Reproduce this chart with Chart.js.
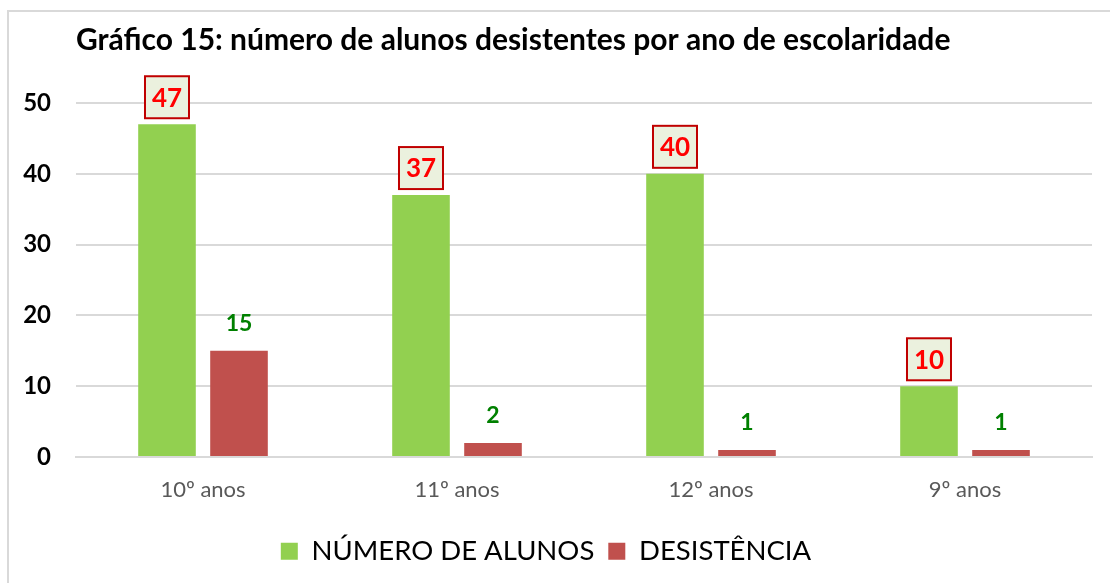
<!DOCTYPE html>
<html>
<head>
<meta charset="utf-8">
<script src="https://cdn.jsdelivr.net/npm/chart.js@4.4.1/dist/chart.umd.min.js"></script>
<style>
    html, body { margin: 0; padding: 0; background: #ffffff; overflow: hidden; }
    #frame {
        position: absolute; left: 7px; top: 10px; width: 1200px; height: 700px;
        border-left: 2px solid #d9d9d9; border-top: 2px solid #d9d9d9;
    }
    #wrap { position: absolute; left: 0; top: 0; width: 1110px; height: 583px; }
</style>
</head>
<body>
<div id="frame"></div>
<div id="wrap"><canvas id="chart"></canvas></div>
<script>
    var titleText = 'Gráfico 15: número de alunos desistentes por ano de escolaridade';
    var categories = ['10º anos', '11º anos', '12º anos', '9º anos'];
    var numeroAlunos = [47, 37, 40, 10];
    var desistencia = [15, 2, 1, 1];
    var yTicks = [0, 10, 20, 30, 40, 50];

    var FONT = 'Lato, "Noto Sans", sans-serif';

    // value labels: boxed red numbers on green bars, plain green numbers on red bars
    var valueLabels = {
        id: 'valueLabels',
        afterDatasetsDraw: function (chart) {
            var ctx = chart.ctx;
            ctx.save();
            ctx.textAlign = 'center';
            ctx.textBaseline = 'middle';
            chart.data.datasets.forEach(function (ds, i) {
                var meta = chart.getDatasetMeta(i);
                meta.data.forEach(function (bar, j) {
                    var txt = String(ds.data[j]);
                    var cy = bar.y - 27;
                    if (i === 0) {
                        ctx.font = 'bold 26px ' + FONT;
                        var w = 44, h = 42;
                        ctx.fillStyle = '#ebf1de';
                        ctx.fillRect(bar.x - w / 2, cy - h / 2, w, h);
                        ctx.lineWidth = 2;
                        ctx.strokeStyle = '#c00000';
                        ctx.strokeRect(bar.x - w / 2, cy - h / 2, w, h);
                        ctx.fillStyle = '#ff0000';
                        ctx.fillText(txt, bar.x, cy + 1);
                    } else {
                        ctx.font = 'bold 23px ' + FONT;
                        ctx.fillStyle = '#008000';
                        ctx.fillText(txt, bar.x, cy);
                    }
                });
            });
            ctx.restore();
        }
    };

    new Chart(document.getElementById('chart'), {
        type: 'bar',
        data: {
            labels: categories,
            datasets: [{
                label: 'NÚMERO DE ALUNOS',
                data: numeroAlunos,
                backgroundColor: '#92d050',
                categoryPercentage: 0.567,
                barPercentage: 0.8
            }, {
                label: 'DESISTÊNCIA',
                data: desistencia,
                backgroundColor: '#c0504d',
                categoryPercentage: 0.567,
                barPercentage: 0.8
            }]
        },
        options: {
            responsive: true,
            maintainAspectRatio: false,
            animation: false,
            layout: { padding: { top: 22, right: 18, left: 0, bottom: 8 } },
            plugins: {
                title: {
                    display: true,
                    text: titleText,
                    align: 'start',
                    fullSize: false,
                    color: '#000000',
                    font: { family: FONT, size: 30, weight: 'bold' },
                    padding: { top: 0, bottom: 45 }
                },
                legend: {
                    position: 'bottom',
                    labels: {
                        color: '#000000',
                        font: { family: FONT, size: 27.5 },
                        boxWidth: 17,
                        boxHeight: 17,
                        padding: 14
                    }
                },
                tooltip: { enabled: false }
            },
            scales: {
                x: {
                    grid: { display: false, drawTicks: false },
                    border: { color: '#d9d9d9', width: 2 },
                    ticks: { color: '#595959', font: { family: FONT, size: 22 }, padding: 20 }
                },
                y: {
                    min: 0,
                    max: 50,
                    afterBuildTicks: function (scale) {
                        scale.ticks = yTicks.map(function (v) { return { value: v }; });
                    },
                    afterFit: function (scale) { scale.width = 76; },
                    grid: { color: '#d9d9d9', lineWidth: 2, drawTicks: false },
                    border: { display: false },
                    ticks: { color: '#000000', font: { family: FONT, size: 24, weight: 'bold' }, padding: 25 }
                }
            }
        },
        plugins: [valueLabels]
    });
</script>
</body>
</html>
